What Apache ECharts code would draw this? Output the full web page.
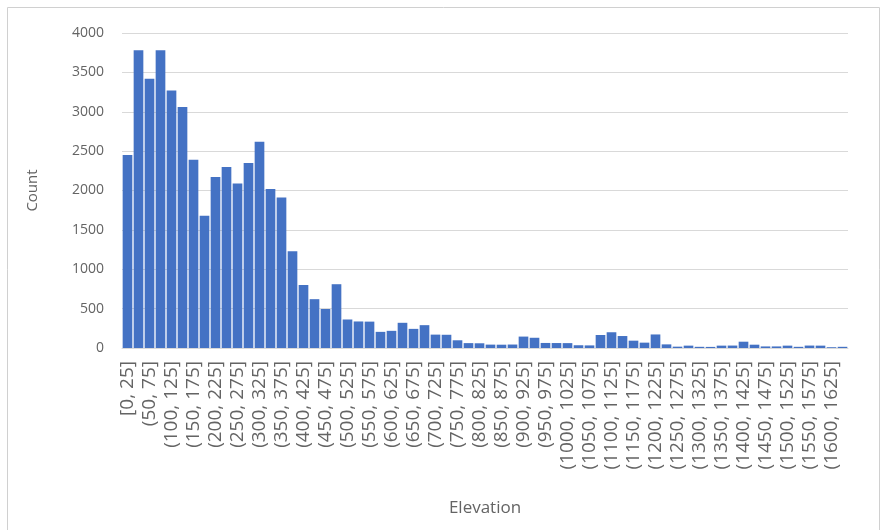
<!DOCTYPE html>
<html>
<head>
<meta charset="utf-8">
<script src="https://cdn.jsdelivr.net/npm/echarts@6/dist/echarts.min.js"></script>
<style>
  html, body { margin: 0; padding: 0; background: #ffffff; }
  #chart { width: 885px; height: 530px; }
</style>
</head>
<body>
<div id="chart"></div>
<script>
// Elevation histogram, 25 m bins
const categories = [
  "[0, 25]", "(25, 50]", "(50, 75]", "(75, 100]", "(100, 125]", "(125, 150]",
  "(150, 175]", "(175, 200]", "(200, 225]", "(225, 250]", "(250, 275]", "(275, 300]",
  "(300, 325]", "(325, 350]", "(350, 375]", "(375, 400]", "(400, 425]", "(425, 450]",
  "(450, 475]", "(475, 500]", "(500, 525]", "(525, 550]", "(550, 575]", "(575, 600]",
  "(600, 625]", "(625, 650]", "(650, 675]", "(675, 700]", "(700, 725]", "(725, 750]",
  "(750, 775]", "(775, 800]", "(800, 825]", "(825, 850]", "(850, 875]", "(875, 900]",
  "(900, 925]", "(925, 950]", "(950, 975]", "(975, 1000]", "(1000, 1025]", "(1025, 1050]",
  "(1050, 1075]", "(1075, 1100]", "(1100, 1125]", "(1125, 1150]", "(1150, 1175]", "(1175, 1200]",
  "(1200, 1225]", "(1225, 1250]", "(1250, 1275]", "(1275, 1300]", "(1300, 1325]", "(1325, 1350]",
  "(1350, 1375]", "(1375, 1400]", "(1400, 1425]", "(1425, 1450]", "(1450, 1475]", "(1475, 1500]",
  "(1500, 1525]", "(1525, 1550]", "(1550, 1575]", "(1575, 1600]", "(1600, 1625]", "(1625, 1650]"
];

const counts = [
  2450, 3780, 3420, 3780, 3270, 3060,
  2390, 1680, 2170, 2300, 2090, 2350,
  2620, 2020, 1910, 1230, 800, 620,
  495, 810, 362, 337, 335, 205,
  218, 320, 243, 290, 170, 168,
  98, 62, 60, 43, 42, 44,
  145, 130, 64, 63, 62, 35,
  33, 165, 200, 152, 93, 68,
  172, 46, 17, 30, 15, 14,
  30, 31, 80, 42, 20, 20,
  30, 15, 31, 30, 10, 15
];

const yTicks = { min: 0, max: 4000, step: 500 };

const textColor = '#646464';
const gridColor = '#d9d9d9';
const barColor = '#4472c4';
const font = '"Open Sans", "Noto Sans", sans-serif';

const chart = echarts.init(document.getElementById('chart'), null, { renderer: 'canvas' });

chart.setOption({
  animation: false,
  backgroundColor: '#ffffff',
  graphic: [{
    type: 'rect',
    shape: { x: 7.5, y: 7.5, width: 872, height: 540 },
    style: { fill: 'none', stroke: '#d0d0d0', lineWidth: 1 },
    silent: true
  }],
  grid: { left: 122, right: 37, top: 33, bottom: 182, containLabel: false },
  xAxis: {
    type: 'category',
    data: categories,
    name: 'Elevation',
    nameLocation: 'middle',
    nameGap: 152,
    nameTextStyle: { color: textColor, fontFamily: font, fontSize: 17 },
    axisLine: { show: true, lineStyle: { color: gridColor, width: 1 } },
    axisTick: { show: false },
    axisLabel: {
      interval: 1,
      rotate: 90,
      margin: 13,
      color: textColor,
      fontFamily: font,
      fontSize: 19
    },
    splitLine: { show: false }
  },
  yAxis: {
    type: 'value',
    min: yTicks.min,
    max: yTicks.max,
    interval: yTicks.step,
    name: 'Count',
    nameLocation: 'middle',
    nameGap: 82,
    nameTextStyle: { color: textColor, fontFamily: font, fontSize: 15 },
    axisLine: { show: false },
    axisTick: { show: false },
    axisLabel: {
      margin: 18,
      color: textColor,
      fontFamily: font,
      fontSize: 14,
      formatter: (v) => String(v)
    },
    splitLine: { show: true, lineStyle: { color: gridColor, width: 1 } }
  },
  series: [{
    type: 'bar',
    data: counts,
    barCategoryGap: '12%',
    itemStyle: { color: barColor },
    silent: true
  }]
});
</script>
</body>
</html>
